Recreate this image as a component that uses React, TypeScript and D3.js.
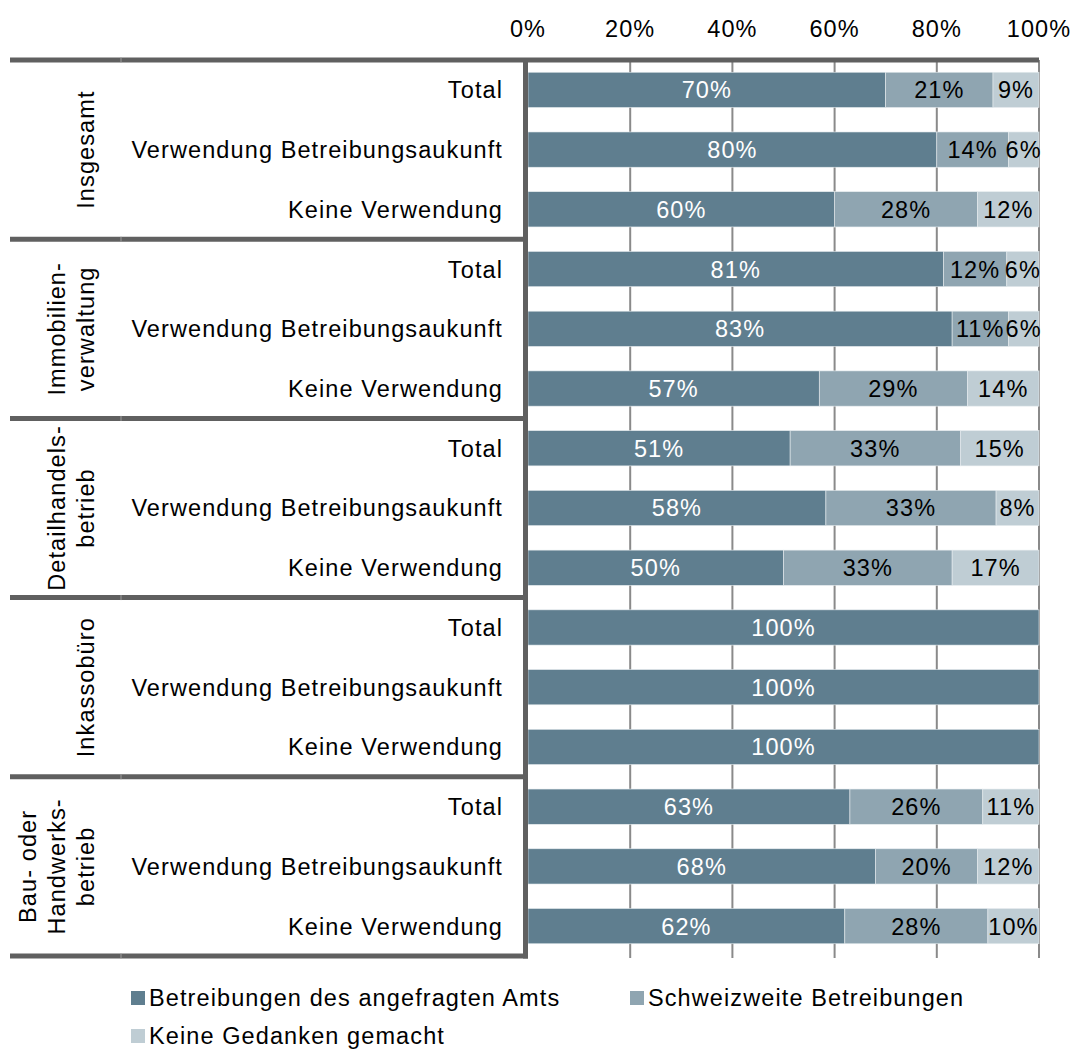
import * as d3 from "d3";

// groups, sub rows and the three answer shares (percent)
const groups = [
  ["Insgesamt"],
  ["Immobilien-", "verwaltung"],
  ["Detailhandels-", "betrieb"],
  ["Inkassobüro"],
  ["Bau- oder", "Handwerks-", "betrieb"],
];
const subRows = ["Total", "Verwendung Betreibungsaukunft", "Keine Verwendung"];

const amts = [70, 80, 60, 81.3, 83, 57, 51.3, 58.3, 50, 100, 100, 100, 63, 68, 62];
const schweiz = [21, 14, 28, 12.4, 11, 29, 33.3, 33.3, 33, 0, 0, 0, 26, 20, 28];
const keine = [9, 6, 12, 6.3, 6, 14, 15.4, 8.4, 17, 0, 0, 0, 11, 12, 10];

const seriesNames = ["Betreibungen des angefragten Amts", "Schweizweite Betreibungen", "Keine Gedanken gemacht"];
const colors = ["#5f7e8f", "#8fa5b1", "#bfcdd4"];
const ticks = [0, 20, 40, 60, 80, 100];

const font = "'Liberation Sans', Arial, sans-serif";
const fs = 23.5;
const ls = 1.1;

export default function App() {
  const W = 1077, H = 1050;
  const x0 = 528, x1 = 1039;
  const top = 60, bottom = 956;
  const sepColor = "#606060";

  const x = d3.scaleLinear([0, 100], [x0, x1]);
  const keys = amts.map((_, i) => String(i));
  const y = d3.scaleBand(keys, [top, bottom]).paddingInner(0.41).paddingOuter(0.205);

  const rows = amts.map((a, i) => ({ i, vals: [a, schweiz[i], keine[i]] }));
  const stack = d3.stack<any>().keys(["0", "1", "2"]).value((d, k) => d.vals[+k]);
  const layers = stack(rows);

  const groupH = (bottom - top) / groups.length;

  return (
    <svg width={W} height={H} style={{ position: "absolute", left: 0, top: 0, background: "#fff" }} fontFamily={font}>
      {/* gridlines */}
      {ticks.slice(1).map((t) => (
        <line key={t} x1={x(t)} x2={x(t)} y1={top} y2={bottom + 2} stroke="#8a8a8a" strokeWidth={2} />
      ))}
      {/* tick labels */}
      {ticks.map((t) => (
        <text key={t} x={x(t)} y={37} textAnchor="middle" fontSize={fs} letterSpacing={ls} fill="#000">
          {t + "%"}
        </text>
      ))}
      {/* bars */}
      {layers.map((layer, li) =>
        layer.map((d, i) => {
          const w = x(d[1]) - x(d[0]);
          if (w <= 0) return null;
          const yy = y(String(i))!;
          return (
            <g key={li + "-" + i}>
              <rect x={x(d[0])} y={yy} width={w} height={y.bandwidth()} fill={colors[li]} stroke="#e6ecef" strokeWidth={0.6} />
              <text
                x={(x(d[0]) + x(d[1])) / 2}
                y={yy + y.bandwidth() / 2}
                dy="0.36em"
                textAnchor="middle"
                fontSize={fs}
                letterSpacing={ls}
                fill={li === 0 ? "#fff" : "#000"}
              >
                {Math.round(d[1] - d[0]) + "%"}
              </text>
            </g>
          );
        })
      )}
      {/* row labels */}
      {amts.map((_, i) => (
        <text key={i} x={503} y={y(String(i))! + y.bandwidth() / 2} dy="0.36em" textAnchor="end" fontSize={fs} letterSpacing={ls}>
          {subRows[i % 3]}
        </text>
      ))}
      {/* group labels */}
      {groups.map((lines, gi) => {
        const cy = top + groupH * (gi + 0.5);
        const n = lines.length;
        return (
          <g key={gi} transform={`translate(${86},${cy}) rotate(-90)`}>
            {lines.map((l, li) => (
              <text key={li} x={0} y={(li - (n - 1)) * 29} dy="0.36em" textAnchor="middle" fontSize={fs} letterSpacing={ls}>
                {l}
              </text>
            ))}
          </g>
        );
      })}
      {/* group separators */}
      {d3.range(groups.length + 1).map((k) => {
        const yy = top + groupH * k;
        return (
          <g key={k}>
            <line x1={10} x2={k === 0 ? x1 : 528} y1={yy} y2={yy} stroke={sepColor} strokeWidth={5} />
            <line x1={121} x2={121} y1={yy - 2.5} y2={yy + 2.5} stroke="#9a9a9a" strokeWidth={1} />
          </g>
        );
      })}
      <line x1={525.5} x2={525.5} y1={top} y2={bottom + 2.5} stroke={sepColor} strokeWidth={5} />
      {/* legend */}
      {seriesNames.map((s, i) => {
        const lx = i === 1 ? 630 : 131;
        const ly = i === 2 ? 1036 : 998;
        return (
          <g key={s}>
            <rect x={lx} y={ly - 7} width={14} height={14} fill={colors[i]} />
            <text x={lx + 18} y={ly} dy="0.36em" fontSize={fs} letterSpacing={ls}>
              {s}
            </text>
          </g>
        );
      })}
    </svg>
  );
}
